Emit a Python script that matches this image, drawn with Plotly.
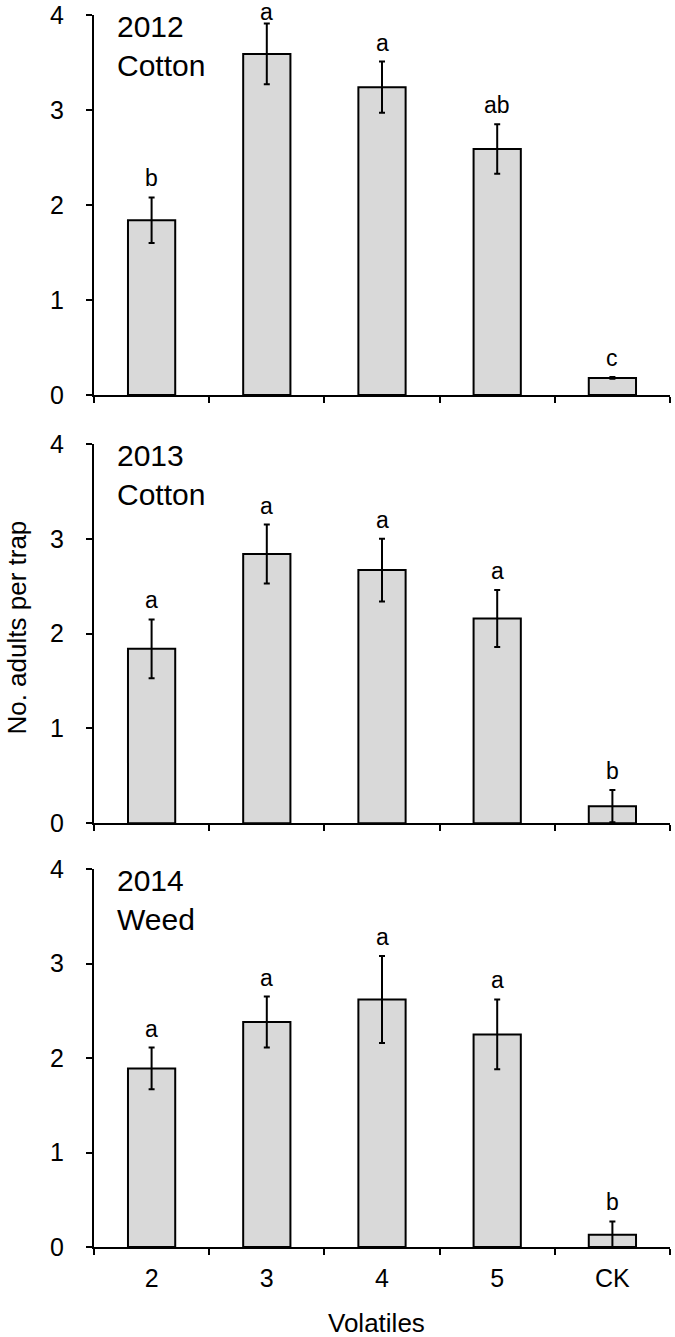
import plotly.graph_objects as go

categories = ["2", "3", "4", "5", "CK"]

means_2012 = [1.84, 3.59, 3.24, 2.59, 0.18]
errs_2012 = [0.24, 0.32, 0.27, 0.26, 0.01]
letters_2012 = ["b", "a", "a", "ab", "c"]

means_2013 = [1.84, 2.84, 2.67, 2.16, 0.18]
errs_2013 = [0.31, 0.31, 0.33, 0.30, 0.17]
letters_2013 = ["a", "a", "a", "a", "b"]

means_2014 = [1.89, 2.38, 2.62, 2.25, 0.13]
errs_2014 = [0.22, 0.27, 0.46, 0.37, 0.14]
letters_2014 = ["a", "a", "a", "a", "b"]

panel_labels = ["2012<br>Cotton", "2013<br>Cotton", "2014<br>Weed"]
y_ticks = [0, 1, 2, 3, 4]
x_title = "Volatiles"
y_title = "No. adults per trap"

panels = [
    (means_2012, errs_2012, letters_2012),
    (means_2013, errs_2013, letters_2013),
    (means_2014, errs_2014, letters_2014),
]

W, H = 675, 1337
ml, mr, mt, mb = 93.5, 5, 15, 90
plot_h = H - mt - mb

def py(px):
    return (H - mb - px) / plot_h

domains = [
    [py(395), 1.0],
    [py(823.3), py(444)],
    [0.0, py(869)],
]
px_per_unit = 95.0

FONT = "Liberation Sans, Arial, sans-serif"

fig = go.Figure()
annotations = []
for i, (m, e, lets) in enumerate(panels):
    ax = "" if i == 0 else str(i + 1)
    fig.add_trace(go.Bar(
        x=categories, y=m,
        width=0.41,
        marker=dict(color="#d9d9d9", line=dict(color="black", width=2)),
        error_y=dict(type="data", array=e, visible=True, color="black",
                     thickness=2, width=3),
        xaxis="x" + ax, yaxis="y" + ax,
        showlegend=False, hoverinfo="skip",
    ))
    for k, (v, er, lt) in enumerate(zip(m, e, lets)):
        shift = 19
        if i == 0:
            shift = min(19, (4.03 - (v + er)) * px_per_unit)
        annotations.append(dict(
            x=k, y=v + er, xref="x" + ax, yref="y" + ax,
            text=lt, showarrow=False, yanchor="middle", yshift=shift,
            font=dict(family=FONT, size=23, color="black"),
        ))
    annotations.append(dict(
        x=0.037, y=1.0, xref="x" + ax + " domain", yref="y" + ax + " domain",
        text=panel_labels[i], showarrow=False, xanchor="left", yanchor="top",
        align="left", yshift=7,
        font=dict(family=FONT, size=30, color="black"),
    ))
    xa = dict(
        type="category", range=[-0.5, 4.5], domain=[0, 1],
        showline=True, linecolor="black", linewidth=2,
        ticks="outside", tickson="boundaries", ticklen=6, tickwidth=2,
        tickcolor="black", showgrid=False, zeroline=False,
        showticklabels=(i == 2),
        tickfont=dict(family=FONT, size=25, color="black"),
        ticklabelstandoff=8,
        automargin=False,
        anchor="y" + ax,
    )
    ya = dict(
        range=[0, 4], domain=domains[i], tickvals=y_ticks,
        showline=True, linecolor="black", linewidth=2,
        ticks="outside", ticklen=6, tickwidth=2, tickcolor="black",
        showgrid=False, zeroline=False,
        tickfont=dict(family=FONT, size=25, color="black"),
        ticklabelstandoff=17,
        automargin=False,
        anchor="x" + ax,
    )
    fig.update_layout(**{"xaxis" + ax: xa, "yaxis" + ax: ya})

annotations.append(dict(
    x=(376 - ml) / (W - ml - mr), y=py(1323), xref="paper", yref="paper",
    text=x_title, showarrow=False, xanchor="center", yanchor="middle",
    font=dict(family=FONT, size=26, color="black"),
))
annotations.append(dict(
    x=(16 - ml) / (W - ml - mr), y=py(628), xref="paper", yref="paper",
    text=y_title, textangle=-90, showarrow=False,
    xanchor="center", yanchor="middle",
    font=dict(family=FONT, size=26, color="black"),
))

fig.update_layout(
    width=W, height=H,
    margin=dict(l=ml, r=mr, t=mt, b=mb, autoexpand=False),
    paper_bgcolor="white", plot_bgcolor="white",
    annotations=annotations,
    bargap=0.59,
)

fig.write_html(
    "out.html",
    config={"displayModeBar": False},
    post_script="document.body.style.margin='0px';document.body.style.overflow='hidden';",
)
